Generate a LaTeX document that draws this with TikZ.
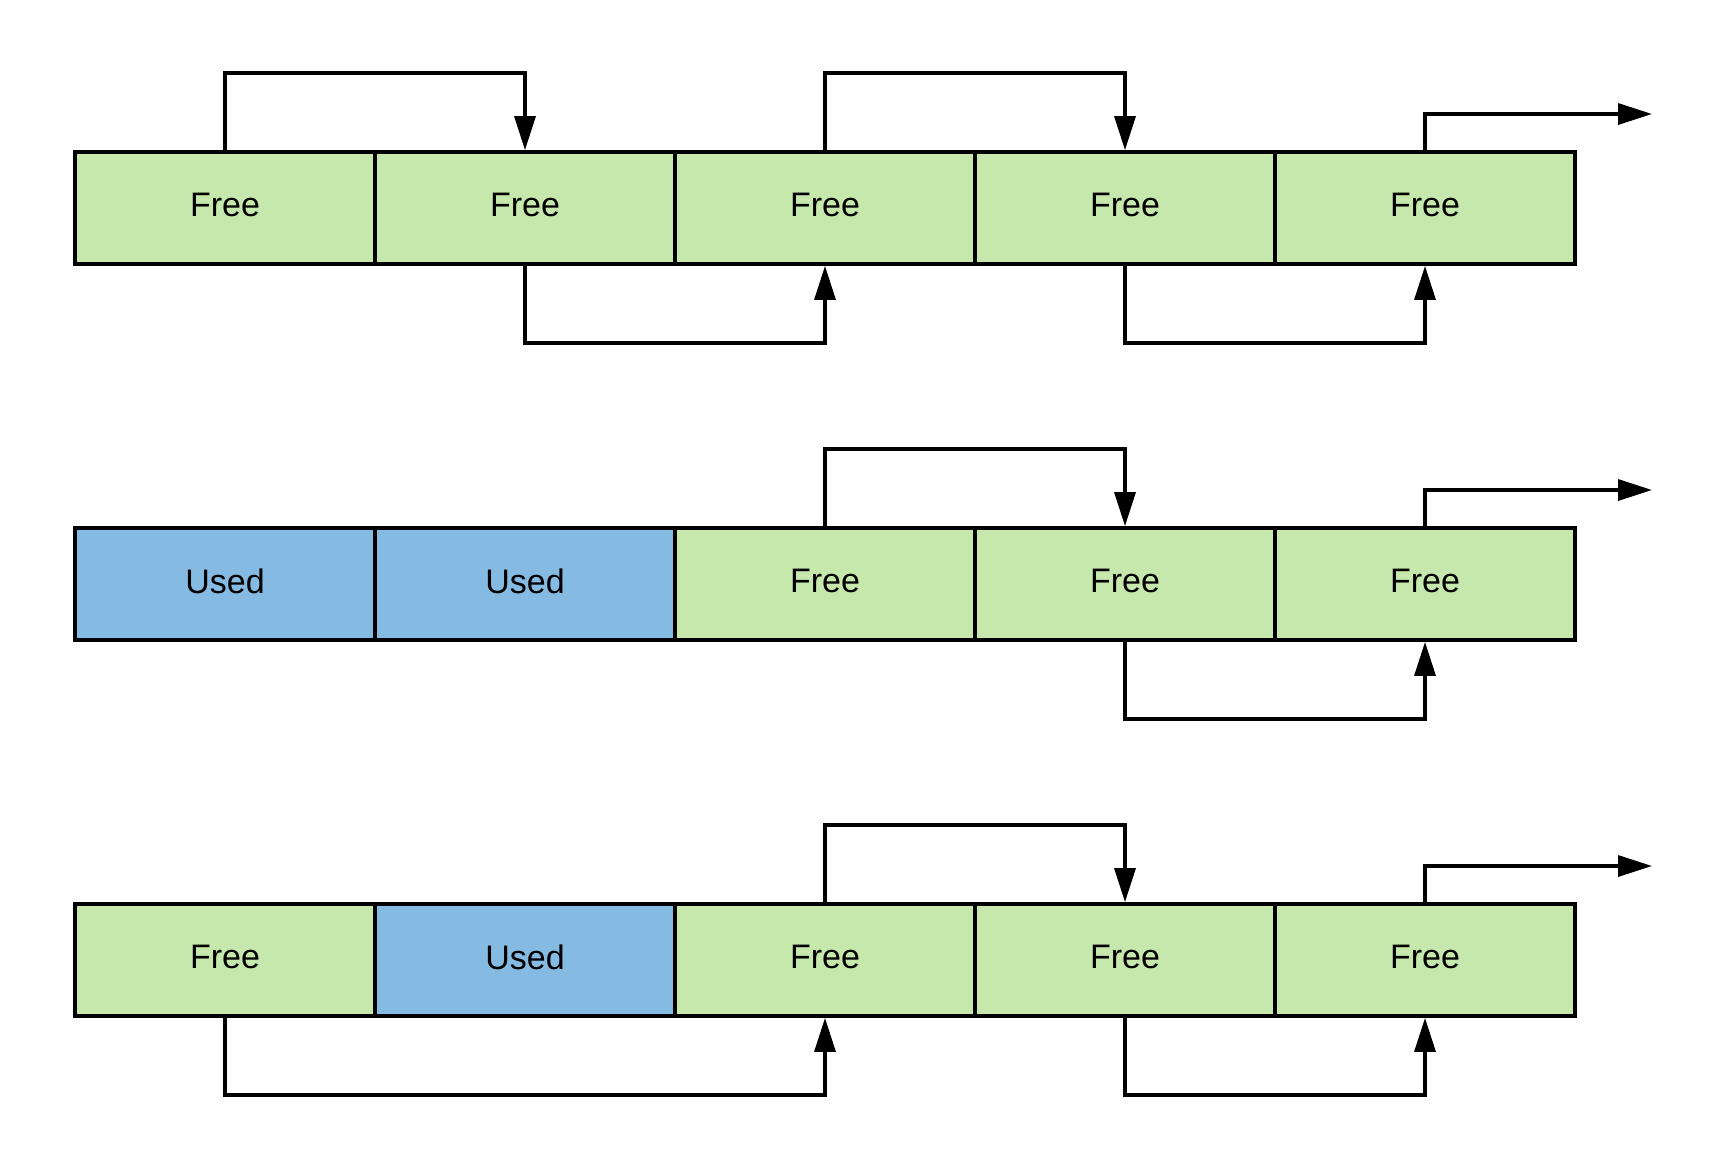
\documentclass[tikz,border=0pt]{standalone}
\usepackage{fontspec}
\setmainfont{Liberation Sans}
\usetikzlibrary{arrows.meta}
\definecolor{freegreen}{HTML}{C7E8AC}
\definecolor{usedblue}{HTML}{85BBE3}
\tikzset{
    block/.style={draw,line width=1.9pt,minimum width=150pt,minimum height=56pt,inner sep=0pt,
        text depth=3pt,font=\fontsize{17}{20}\selectfont},
    free/.style={block,fill=freegreen},
    used/.style={block,fill=usedblue},
    link/.style={line width=1.7pt,-{Triangle[length=17pt,width=10.5pt]}}
}
\begin{document}
\begin{tikzpicture}[x=0.5pt,y=-0.5pt]
    \useasboundingbox (0,0) rectangle (1719,1168);
    % first row
    \node[free] (r1a) at (225,208) {Free};
    \node[free] (r1b) at (525,208) {Free};
    \node[free] (r1c) at (825,208) {Free};
    \node[free] (r1d) at (1125,208) {Free};
    \node[free] (r1e) at (1425,208) {Free};
    \coordinate (r1end) at (1652,114);
    \draw[link] (r1a.north) -- ++(0,-77) -| (r1b.north);
    \draw[link] (r1c.north) -- ++(0,-77) -| (r1d.north);
    \draw[link] (r1b.south) -- ++(0,77) -| (r1c.south);
    \draw[link] (r1d.south) -- ++(0,77) -| (r1e.south);
    \draw[link] (r1e.north) |- (r1end);
    % second row
    \node[used] (r2a) at (225,584) {Used};
    \node[used] (r2b) at (525,584) {Used};
    \node[free] (r2c) at (825,584) {Free};
    \node[free] (r2d) at (1125,584) {Free};
    \node[free] (r2e) at (1425,584) {Free};
    \coordinate (r2end) at (1652,490);
    \draw[link] (r2c.north) -- ++(0,-77) -| (r2d.north);
    \draw[link] (r2d.south) -- ++(0,77) -| (r2e.south);
    \draw[link] (r2e.north) |- (r2end);
    % third row
    \node[free] (r3a) at (225,960) {Free};
    \node[used] (r3b) at (525,960) {Used};
    \node[free] (r3c) at (825,960) {Free};
    \node[free] (r3d) at (1125,960) {Free};
    \node[free] (r3e) at (1425,960) {Free};
    \coordinate (r3end) at (1652,866);
    \draw[link] (r3c.north) -- ++(0,-77) -| (r3d.north);
    \draw[link] (r3a.south) -- ++(0,77) -| (r3c.south);
    \draw[link] (r3d.south) -- ++(0,77) -| (r3e.south);
    \draw[link] (r3e.north) |- (r3end);
\end{tikzpicture}
\end{document}
